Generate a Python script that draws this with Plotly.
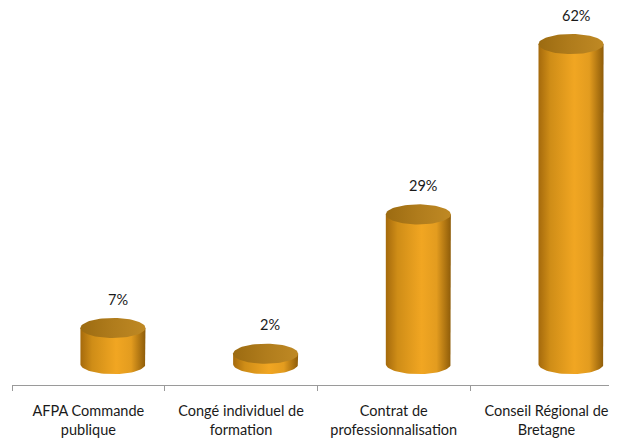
import numpy as np
import plotly.graph_objects as go

# Data
categories = ["AFPA Commande<br>publique", "Congé individuel de<br>formation",
              "Contrat de<br>professionnalisation", "Conseil Régional de<br>Bretagne"]
values = [7, 2, 29, 62]
value_labels = ["7%", "2%", "29%", "62%"]

# cylinder geometry (axis units)
half_w = 0.213       # half width of a cylinder
depth_shift = 0.161  # 3D offset to the right of the category centre
ell_h = 1.95         # half height of the ellipses (in % units)

body_scale = [[0, '#A56A0C'], [0.18, '#CF8D17'], [0.55, '#F1A622'],
              [0.78, '#E39C1F'], [1, '#8E5C09']]
top_scale = [[0, '#9C6B11'], [0.5, '#B07C1C'], [1, '#BF8924']]

fig = go.Figure()
t = np.linspace(0, np.pi, 40)
t_full = np.linspace(0, 2 * np.pi, 80)

for i, v in enumerate(values):
    cx = i + 0.5 + depth_shift
    # body: sides + lower half of the base ellipse
    xs = [cx - half_w, cx - half_w, cx + half_w, cx + half_w]
    ys = [0, v, v, 0]
    xs += list(cx + half_w * np.cos(t))
    ys += list(0 - ell_h * np.sin(t))
    fig.add_trace(go.Scatter(
        x=xs, y=ys, fill='toself', mode='lines', line=dict(width=0),
        fillgradient=dict(type='horizontal', colorscale=body_scale),
        hoverinfo='skip', showlegend=False))
    # top ellipse
    fig.add_trace(go.Scatter(
        x=list(cx + half_w * np.cos(t_full)),
        y=list(v + ell_h * np.sin(t_full)),
        fill='toself', mode='lines', line=dict(width=0),
        fillgradient=dict(type='horizontal', colorscale=top_scale),
        hoverinfo='skip', showlegend=False))
    fig.add_annotation(x=cx + 0.03, y=v + 5.6, text=value_labels[i], showarrow=False,
                       font=dict(family='Lato', size=14.5, color='#1a1a1a'))

# page body has an 8px margin, so the figure is a bit smaller and shifted
fig.update_layout(
    width=609, height=430,
    margin=dict(l=4, r=0, t=0, b=51),
    paper_bgcolor='white', plot_bgcolor='white',
    font=dict(family='Lato', size=14.5, color='#1a1a1a'),
    xaxis=dict(range=[0, 3.962], showgrid=False, zeroline=False,
               showline=True, linecolor='#9a9a9a', linewidth=1,
               tickvals=[i + 0.5 for i in range(len(categories))],
               ticktext=categories, ticks='', ticklabelstandoff=13,
               minor=dict(tickvals=[0, 1, 2, 3, 4], ticks='outside',
                          ticklen=5, tickcolor='#9a9a9a')),
    yaxis=dict(range=[-4.05, 68.98], visible=False),
)

fig.write_html("out.html")
